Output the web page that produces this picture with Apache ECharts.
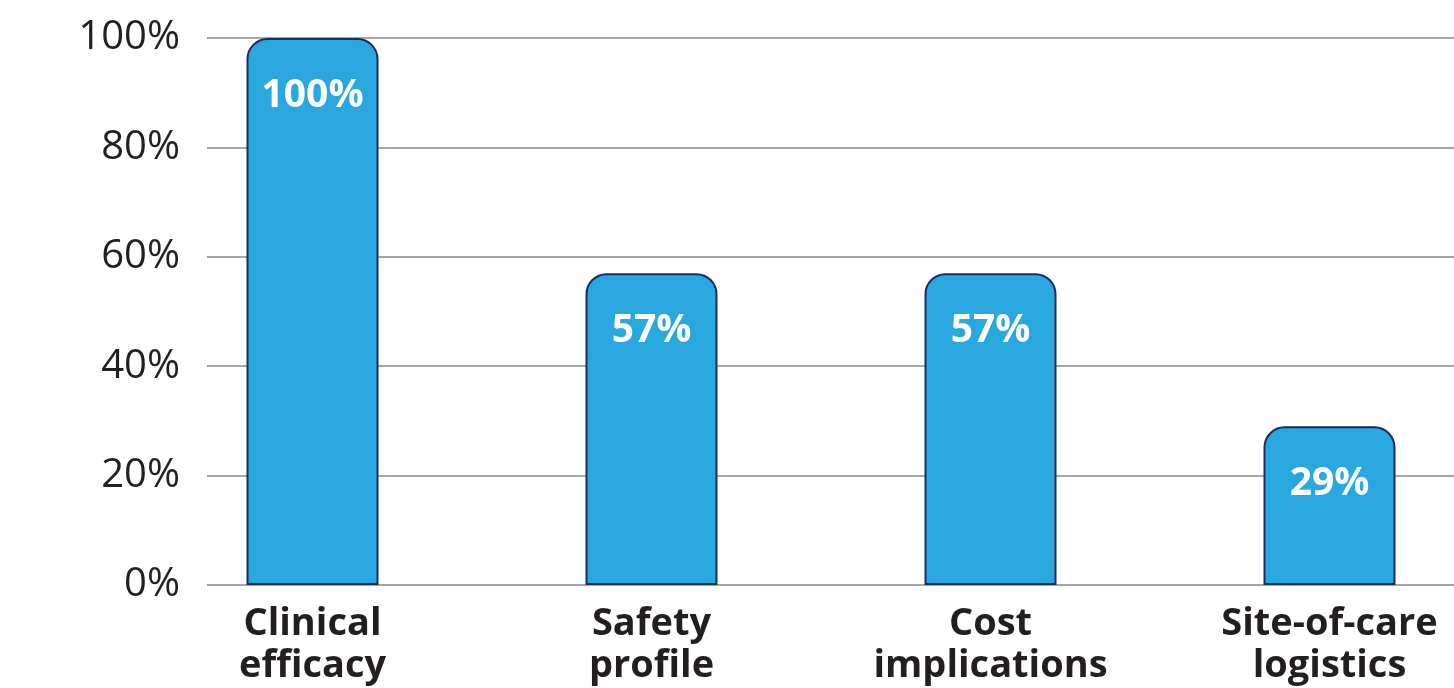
<!DOCTYPE html>
<html>
<head>
<meta charset="utf-8">
<style>
  html, body { margin: 0; padding: 0; background: #fff; }
  #main { width: 1454px; height: 688px; }
</style>
<script src="https://cdn.jsdelivr.net/npm/echarts@6/dist/echarts.min.js"></script>
</head>
<body>
<div id="main"></div>
<script>
// data
var categories = ['Clinical\nefficacy', 'Safety\nprofile', 'Cost\nimplications', 'Site-of-care\nlogistics'];
var values = [100, 57, 57, 29];
var yTicks = [0, 20, 40, 60, 80, 100];

var myChart = echarts.init(document.getElementById('main'));

var font = '"Open Sans", "Noto Sans", sans-serif';

var option = {
    backgroundColor: '#ffffff',
    animation: false,
    grid: [
        // grid lines + y labels
        { left: 207, right: 0, top: 38, bottom: 103, outerBoundsMode: 'none' },
        // bars
        { left: 143, right: -45, top: 38, bottom: 103, outerBoundsMode: 'none' }
    ],
    xAxis: [
        { type: 'category', gridIndex: 0, data: categories, show: false },
        {
            type: 'category',
            gridIndex: 1,
            data: categories,
            axisLine: { show: false },
            axisTick: { show: false },
            axisLabel: {
                color: '#231f20',
                fontFamily: font,
                fontWeight: 'bold',
                fontSize: 38,
                lineHeight: 42,
                margin: 18
            }
        }
    ],
    yAxis: [
        {
            type: 'value',
            gridIndex: 0,
            min: yTicks[0],
            max: yTicks[yTicks.length - 1],
            interval: 20,
            axisLine: { show: false },
            axisTick: { show: false },
            axisLabel: {
                formatter: '{value}%',
                color: '#231f20',
                fontFamily: font,
                fontSize: 40,
                margin: 27
            },
            splitLine: { lineStyle: { color: '#a7a5a5', width: 2 } }
        },
        {
            type: 'value',
            gridIndex: 1,
            min: yTicks[0],
            max: yTicks[yTicks.length - 1],
            interval: 20,
            show: false,
            splitLine: { show: false }
        }
    ],
    series: [
        {
            type: 'bar',
            xAxisIndex: 1,
            yAxisIndex: 1,
            data: values,
            barWidth: 132,
            clip: false,
            itemStyle: {
                color: '#29a8e0',
                borderColor: '#1f2a5c',
                borderWidth: 2,
                borderRadius: [20, 20, 0, 0]
            },
            label: {
                show: true,
                position: 'insideTop',
                distance: 38,
                formatter: '{c}%',
                color: '#ffffff',
                fontFamily: font,
                fontWeight: 'bold',
                fontSize: 39
            }
        }
    ]
};

myChart.setOption(option);
</script>
</body>
</html>
